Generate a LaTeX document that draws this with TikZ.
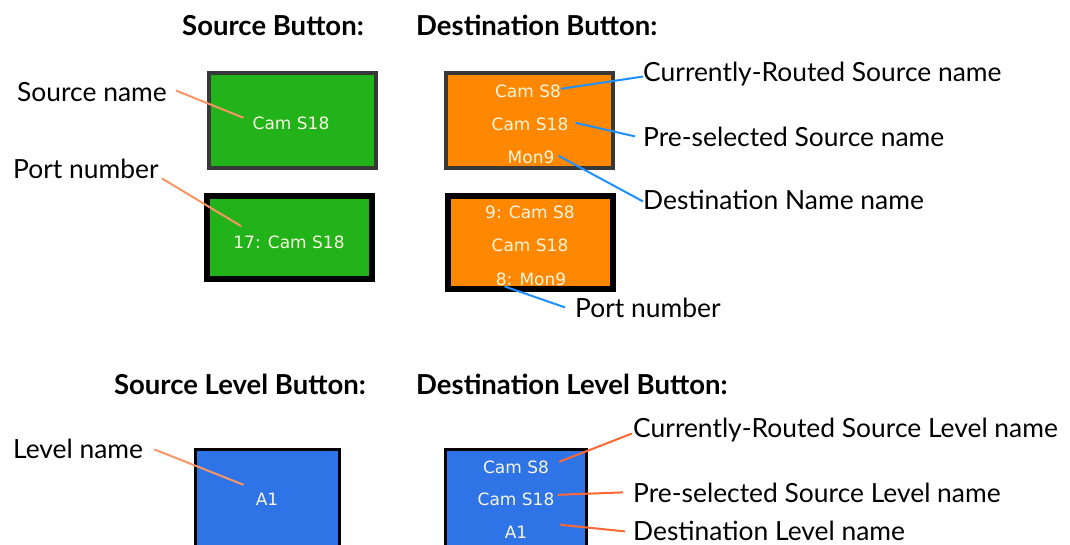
\documentclass[tikz,border=0pt]{standalone}
\usepackage{fontspec}
\setmainfont{Lato}
\newfontfamily\btnfont{DejaVu Sans}
\usepackage{tikz}
\usepackage{xcolor}
\usetikzlibrary{positioning, calc}

\definecolor{srcgreen}{RGB}{34,178,26}
\definecolor{dstorange}{RGB}{255,136,0}
\definecolor{lvlblue}{RGB}{47,116,230}
\definecolor{framegray}{RGB}{56,56,56}
\definecolor{btntxt}{RGB}{248,246,225}
\definecolor{srcwire}{RGB}{247,150,100}
\definecolor{dstwire}{RGB}{30,144,255}
\definecolor{lvlwire}{RGB}{255,104,52}

\tikzset{
    button/.style={rectangle, inner sep=0pt},
    btntext/.style={font=\btnfont\fontsize{17}{17}\selectfont, text=btntxt, inner sep=1pt, anchor=base},
    heading/.style={font=\bfseries\fontsize{27.5}{27.5}\selectfont, inner sep=0pt},
    tagtext/.style={font=\fontsize{26.4}{26.4}\selectfont, inner sep=1pt},
    srcline/.style={draw=srcwire, line width=2pt},
    dstline/.style={draw=dstwire, line width=2pt},
    lvlline/.style={draw=lvlwire, line width=2pt}
}

\begin{document}
\begin{tikzpicture}[x=1pt, y=-1pt]
    \useasboundingbox[fill=white] (0,0) rectangle (1070,544);

    \node[heading, anchor=base east] (hsrc) at (364,35) {Source Button:};
    \node[heading, anchor=base west] (hdst) at (416,35) {Destination Button:};
    \node[heading, anchor=base east] (hlsrc) at (366,394) {Source Level Button:};
    \node[heading, anchor=base west] (hldst) at (416,394) {Destination Level Button:};

    \node[button, fill=srcgreen, draw=framegray, line width=4pt, minimum width=167pt, minimum height=95pt] (srcbtn) at (292.5,120.5) {};
    \node[button, fill=srcgreen, draw=black, line width=6pt, minimum width=165pt, minimum height=83pt] (srcportbtn) at (289.5,237.5) {};
    \node[button, fill=dstorange, draw=framegray, line width=4pt, minimum width=167pt, minimum height=95pt] (dstbtn) at (529.5,120.5) {};
    \node[button, fill=dstorange, draw=black, line width=6pt, minimum width=165pt, minimum height=93pt] (dstportbtn) at (530.5,242.5) {};
    \node[button, fill=lvlblue, draw=black, line width=3pt, minimum width=144pt, minimum height=101pt] (lvlbtn) at (267.5,500) {};
    \node[button, fill=lvlblue, draw=black, line width=3pt, minimum width=141pt, minimum height=101pt] (dlvlbtn) at (516,500) {};

    \node[btntext] (srcname) at (291,129) {Cam S18};
    \node[btntext] (srcport) at (289,248) {17: Cam S18};
    \node[btntext] (dcur) at (528,97) {Cam S8};
    \node[btntext] (dpre) at (530,130) {Cam S18};
    \node[btntext] (ddest) at (531,163) {Mon9};
    \node[btntext] (dcurp) at (530,218) {9: Cam S8};
    \node[btntext] (dprep) at (530,251) {Cam S18};
    \node[btntext] (ddestp) at (531,285) {8: Mon9};
    \node[btntext] (lvlname) at (267,505) {A1};
    \node[btntext] (dlcur) at (516,473) {Cam S8};
    \node[btntext] (dlpre) at (516,505) {Cam S18};
    \node[btntext] (dldest) at (516,538) {A1};

    \node[tagtext, anchor=base west] (tsrcname) at (16,101) {Source name};
    \node[tagtext, anchor=base west] (tsrcport) at (12,178) {Port number};
    \node[tagtext, anchor=base west] (tlvlname) at (12,458) {Level name};
    \node[tagtext, anchor=base west] (tcur) at (642,81) {Currently-Routed Source name};
    \node[tagtext, anchor=base west] (tpre) at (642,146) {Pre-selected Source name};
    \node[tagtext, anchor=base west] (tdest) at (642,209) {Destination Name name};
    \node[tagtext, anchor=base west] (tport) at (574,317) {Port number};
    \node[tagtext, anchor=base west] (tlcur) at (632,437) {Currently-Routed Source Level name};
    \node[tagtext, anchor=base west] (tlpre) at (632,502) {Pre-selected Source Level name};
    \node[tagtext, anchor=base west] (tldest) at (632,540) {Destination Level name};

    \draw[srcline] ([xshift=8pt, yshift=1pt]tsrcname.east) -- ([xshift=-8pt, yshift=5pt]srcname.west);
    \draw[srcline] ([xshift=2pt, yshift=-10pt]tsrcport.east) -- ([xshift=9pt, yshift=8pt]srcport.north west);
    \draw[srcline] ([xshift=10pt, yshift=-1pt]tlvlname.east) -- ([xshift=-11pt, yshift=14pt]lvlname.west);

    \draw[dstline] ([xshift=-1pt, yshift=2pt]dcur.east) -- ([xshift=1pt, yshift=-3pt]tcur.west);
    \draw[dstline] ([xshift=6pt, yshift=1pt]dpre.east) -- ([xshift=-7pt]tpre.west);
    \draw[dstline] ([xshift=3pt, yshift=1pt]ddest.east) -- ([xshift=1pt, yshift=-2pt]tdest.west);
    \draw[dstline] ([xshift=10pt]ddestp.south west) -- ([xshift=-9pt]tport.west);

    \draw[lvlline] ([xshift=9pt, yshift=5pt]dlcur.east) -- ([yshift=-4pt]tlcur.west);
    \draw[lvlline] ([xshift=2pt, yshift=4pt]dlpre.east) -- ([xshift=-9pt]tlpre.west);
    \draw[lvlline] ([xshift=32pt, yshift=7pt]dldest.east) -- ([xshift=-7pt, yshift=-1pt]tldest.west);
\end{tikzpicture}
\end{document}
